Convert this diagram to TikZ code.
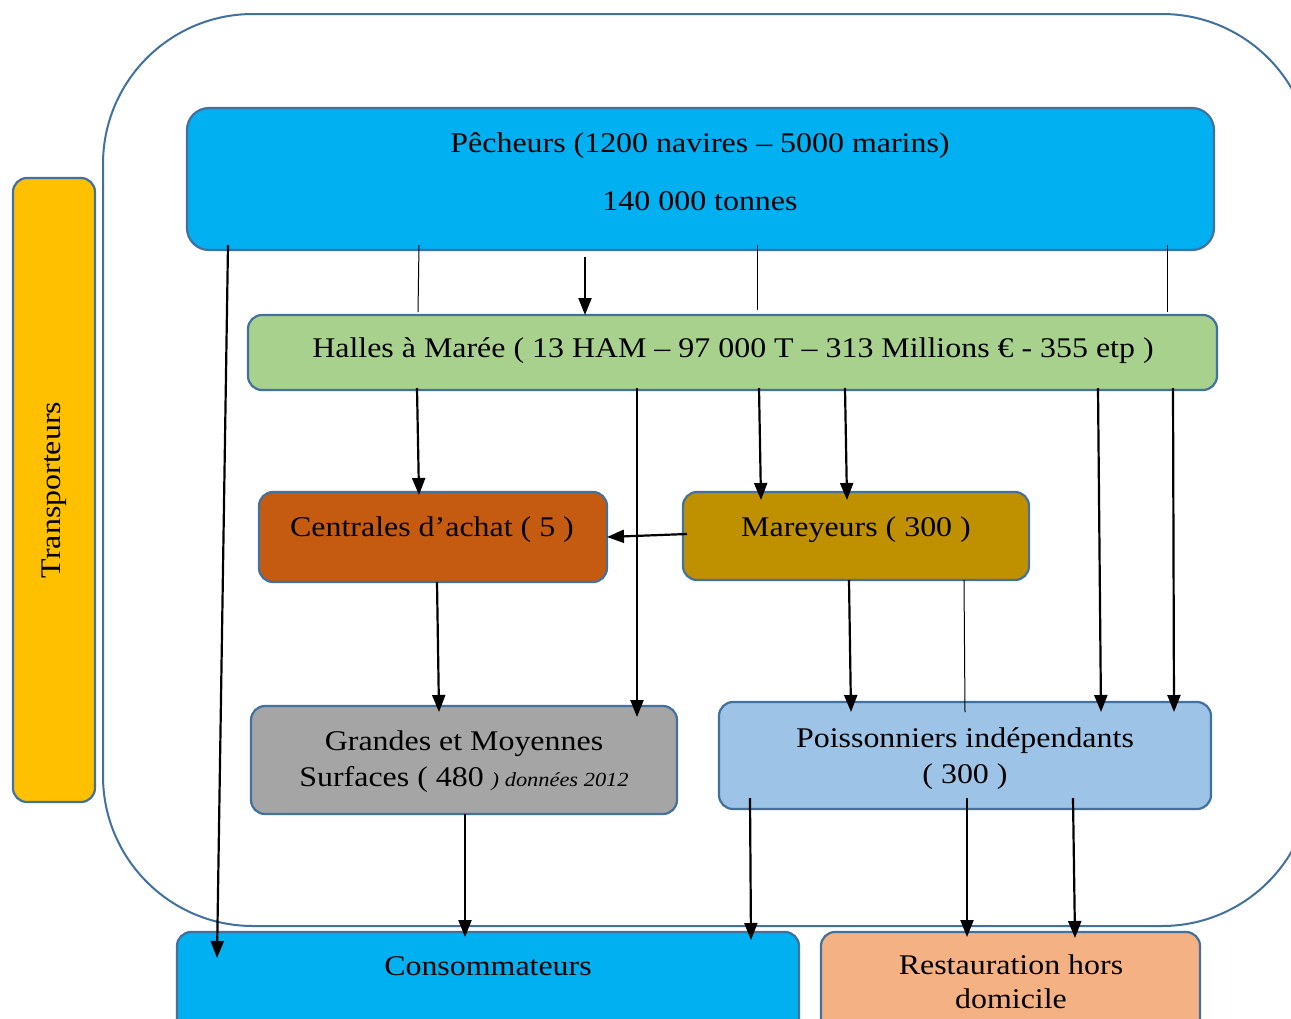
\documentclass[tikz,border=0pt]{standalone}
\usepackage{fontspec}
\setmainfont{Liberation Serif}[FakeStretch=1.12]
\usetikzlibrary{arrows.meta}
\definecolor{outl}{HTML}{41719C}
\definecolor{cpech}{HTML}{00B0F0}
\definecolor{challes}{HTML}{A9D18E}
\definecolor{ccentr}{HTML}{C55A11}
\definecolor{cmar}{HTML}{BF9000}
\definecolor{cgms}{HTML}{A5A5A5}
\definecolor{cpoiss}{HTML}{9DC3E6}
\definecolor{crest}{HTML}{F4B183}
\definecolor{ctrans}{HTML}{FFC000}
\tikzset{
  boxnode/.style={draw=outl, line width=2.2pt, rounded corners=14pt, inner sep=0pt, outer sep=0pt},
  txt/.style={anchor=base, align=center, inner sep=0pt, font=\fontsize{28.5}{36}\selectfont},
  arr/.style={line width=2.2pt, -{Triangle[length=17pt,width=13pt]}},
  thin/.style={line width=1pt}
}
\begin{document}
\begin{tikzpicture}[x=1pt,y=-1pt]
\useasboundingbox (0,0) rectangle (1291,1018);
\clip (0,0) rectangle (1291,1018);
\fill[white] (0,0) rectangle (1291,1018);
% outer frame
\node[draw=outl, line width=2pt, rounded corners=150pt, minimum width=1209pt, minimum height=912pt, inner sep=0pt] (frame) at (707.5,470) {};
% boxes
\node[boxnode, fill=ctrans, minimum width=82pt, minimum height=624pt] (trans) at (54,490) {};
\node[txt, anchor=center, rotate=90] (transT) at (54,490) {Transporteurs};
\node[boxnode, fill=cpech, rounded corners=22pt, minimum width=1027pt, minimum height=142pt] (pech) at (700.5,179) {};
\node[txt] (pechT1) at (700,152.5) {Pêcheurs (1200 navires – 5000 marins)};
\node[txt] (pechT2) at (700,210) {140 000 tonnes};
\node[boxnode, fill=challes, minimum width=969pt, minimum height=75pt] (halles) at (732.5,352.5) {};
\node[txt] (hallesT) at (733,357) {Halles à Marée ( 13 HAM – 97 000 T – 313 Millions € - 355 etp )};
\node[boxnode, fill=ccentr, minimum width=348pt, minimum height=90pt] (centr) at (433,537) {};
\node[txt] (centrT) at (432,536) {Centrales d’achat ( 5 )};
\node[boxnode, fill=cmar, minimum width=346pt, minimum height=88pt] (mar) at (856,536) {};
\node[txt] (marT) at (856,536) {Mareyeurs ( 300 )};
\node[boxnode, fill=cgms, minimum width=426pt, minimum height=108pt] (gms) at (464,760) {};
\node[txt, anchor=north] (gmsT) at (464,731) {Grandes et Moyennes\\Surfaces ( 480 {\itshape\fontsize{20}{24}\selectfont ) données 2012}};
\node[boxnode, fill=cpoiss, minimum width=492pt, minimum height=107pt] (poiss) at (965,755.5) {};
\node[txt, anchor=north] (poissT) at (965,727) {Poissonniers indépendants\\( 300 )};
\node[boxnode, fill=cpech, minimum width=622pt, minimum height=108pt] (cons) at (488,986) {};
\node[txt] (consT) at (488,975) {Consommateurs};
\node[boxnode, fill=crest, minimum width=379pt, minimum height=108pt] (rest) at (1010.5,986) {};
\node[txt, anchor=north, font=\fontsize{28.5}{34}\selectfont] (restT) at (1011,955) {Restauration hors\\domicile};
% thin lines
\draw[thin] ([yshift=5pt]pech.south -| 419,0) -- ([yshift=3pt]halles.north -| 418,0);
\draw[thin] ([yshift=5pt]pech.south -| 757,0) -- ([yshift=5pt]halles.north -| 757,0);
\draw[thin] ([yshift=5pt]pech.south -| 1167,0) -- ([yshift=3pt]halles.north -| 1167,0);
\draw[thin] (mar.south -| 964,0) -- ([yshift=-10pt]poiss.north -| 965,0);
% arrows
\draw[arr] ([yshift=5pt]pech.south -| 228,0) -- ([yshift=-26pt]cons.north -| 217,0);
\draw[arr] ([yshift=-7pt]pech.south -| 585,0) -- (halles.north -| 585,0);
\draw[arr] ([yshift=2pt]halles.south -| 417,0) -- ([yshift=-3pt]centr.north -| 419,0);
\draw[arr] ([yshift=2pt]halles.south -| 637,0) -- ([yshift=-11pt]gms.north -| 637,0);
\draw[arr] ([yshift=2pt]halles.south -| 759,0) -- ([yshift=-8pt]mar.north -| 761,0);
\draw[arr] ([yshift=2pt]halles.south -| 845,0) -- ([yshift=-8pt]mar.north -| 847,0);
\draw[arr] ([yshift=2pt]halles.south -| 1098,0) -- ([yshift=-10pt]poiss.north -| 1101,0);
\draw[arr] ([yshift=2pt]halles.south -| 1173,0) -- ([yshift=-10pt]poiss.north -| 1174,0);
\draw[arr] ([xshift=4pt,yshift=2pt]mar.west) -- (centr.east);
\draw[arr] (centr.south -| 437,0) -- ([yshift=-6pt]gms.north -| 439,0);
\draw[arr] (mar.south -| 849,0) -- ([yshift=-10pt]poiss.north -| 851,0);
\draw[arr] (gms.south -| 465,0) -- ([yshift=-5pt]cons.north -| 465,0);
\draw[arr] ([yshift=11pt]poiss.south -| 750,0) -- ([yshift=-8pt]cons.north -| 751,0);
\draw[arr] ([yshift=11pt]poiss.south -| 967,0) -- ([yshift=-5pt]rest.north -| 967,0);
\draw[arr] ([yshift=11pt]poiss.south -| 1073,0) -- ([yshift=-6pt]rest.north -| 1075,0);
\end{tikzpicture}
\end{document}
